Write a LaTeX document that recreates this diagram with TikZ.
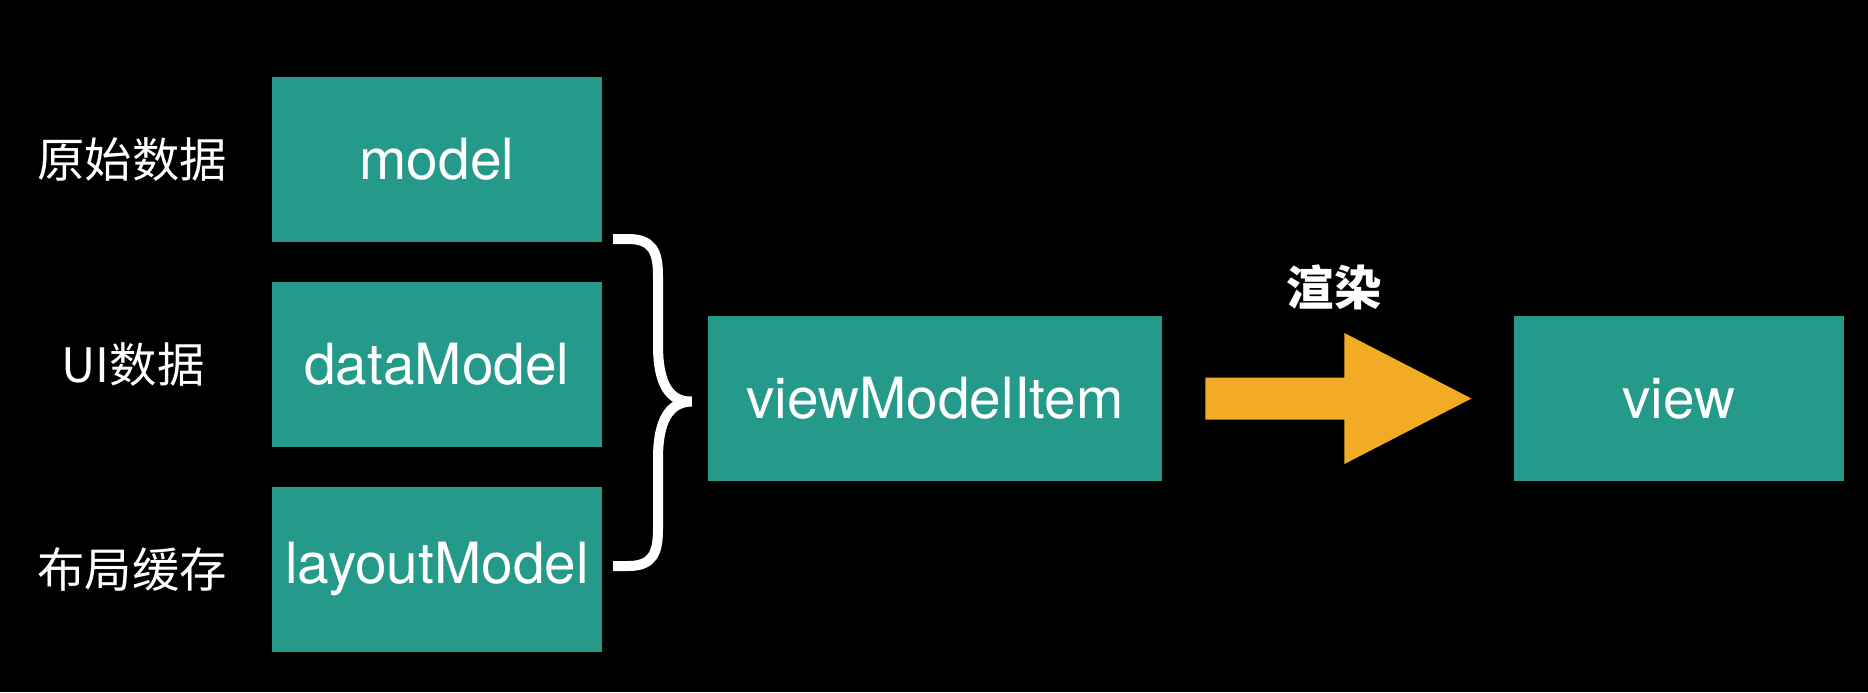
\documentclass[tikz,border=0pt]{standalone}
\usepackage{fontspec}
\setmainfont{TeX Gyre Heros}
\newfontfamily\cjk{Noto Sans CJK SC}
\usetikzlibrary{positioning}
\usetikzlibrary{calc}
\definecolor{boxteal}{HTML}{259A8B}
\definecolor{arroworange}{HTML}{F2AB24}

\begin{document}
\begin{tikzpicture}[x=0.5pt, y=-0.5pt]

\def\BoxWidth{165pt}
\def\BoxHeight{82.5pt}
\def\WideWidth{227pt}
\def\Spacing{19.5pt}
\def\HSpacing{175.5pt}

% Styles
\tikzstyle{box} =
	[text=white, inner sep=0pt, font=\fontsize{28.4}{31}\selectfont]

\tikzstyle{module} =
	[box, fill=boxteal, minimum width=\BoxWidth, minimum height=\BoxHeight]

\tikzstyle{tag} =
	[text=white, inner sep=0pt, font=\cjk\fontsize{23.7}{26}\selectfont]

% Background
\fill[black] (0,0) rectangle (1868,692);

% Modules

\node (Model) at (437,159.5) [module] {model};
\node (DataModel) [module, below=\Spacing of Model] {dataModel};
\node (LayoutModel) [module, below=\Spacing of DataModel] {layoutModel};

\node (ViewModelItem) at (935,398.5) [module, minimum width=\WideWidth] {viewModelItem};
\node (View) [module, right=\HSpacing of ViewModelItem] {view};

% Labels

\path (Model.center) + (-305,0) node (RawData) [tag] {原始数据};
\path (DataModel.center) + (-304,0) node (UIData) [tag] {UI数据};
\path (LayoutModel.center) + (-305,0) node (LayoutCache) [tag] {布局缓存};

% Brace

\coordinate (BraceTip) at ($(ViewModelItem.west)+(-16,3)$);
\draw[white, line width=5pt]
	(613,239) -- (628,239)
	.. controls (652,239) and (658,251) .. (658,276)
	-- (658,345)
	.. controls (658,385) and (670,402) .. (BraceTip)
	.. controls (670,402) and (658,419) .. (658,459)
	-- (658,529)
	.. controls (658,554) and (652,566) .. (628,566)
	-- (613,566);

% Render arrow

\coordinate (ArrowTail) at ($(ViewModelItem.east)+(43,0)$);
\fill[arroworange] (ArrowTail) ++(0,-21) -- ++(139,0) -- ++(0,-44.5)
	-- ++(127,65.5) -- ++(-127,65.5) -- ++(0,-44.5) -- ++(-139,0) -- cycle;
\node (Render) at (1334,287) [tag, font=\cjk\bfseries\fontsize{23.7}{26}\selectfont] {渲染};

\end{tikzpicture}
\end{document}
